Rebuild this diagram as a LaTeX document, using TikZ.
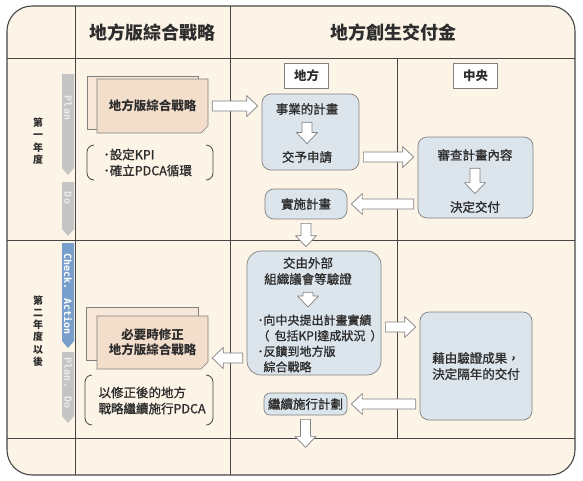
\documentclass[tikz,border=0pt]{standalone}
\usepackage{fontspec}
\setmainfont{Noto Sans CJK TC}[UprightFeatures={FakeBold=1.2}]
\newfontfamily\phasefont{DejaVu Sans Mono}
\usetikzlibrary{calc}

\definecolor{paper}{RGB}{252,244,230}
\definecolor{rule}{RGB}{70,70,70}
\definecolor{edge}{RGB}{128,128,128}
\definecolor{ink}{RGB}{45,45,45}
\definecolor{boxblue}{RGB}{221,229,236}
\definecolor{docpale}{RGB}{246,231,216}
\definecolor{docpeach}{RGB}{243,221,203}
\definecolor{phasegray}{RGB}{196,196,196}
\definecolor{phaseblue}{RGB}{120,158,204}
\definecolor{phaselight}{RGB}{236,236,236}

\newcommand{\bigarrow}[2]{%
	\path
	($(#1)!4pt!(#2)$) coordinate (ba)
	($(#2)!4pt!(#1)$) coordinate (bb);
	\path
	($(bb)!11pt!(ba)$) coordinate (bh);
	\filldraw[bigarrow]
	($(ba)!5pt!90:(bb)$) --
	($(bh)!5pt!90:(bb)$) --
	($(bh)!10.5pt!90:(bb)$) --
	(bb) --
	($(bh)!10.5pt!-90:(bb)$) --
	($(bh)!5pt!-90:(bb)$) --
	($(ba)!5pt!-90:(bb)$) -- cycle;}

\begin{document}
\begin{tikzpicture}[x=1pt,y=-1pt,
	every node/.style={text=ink,font=\fontsize{12.5}{16}\selectfont},
	grid/.style={draw=rule,line width=0.9pt},
	flowbox/.style={draw=edge,fill=boxblue,rounded corners=9pt,line width=0.7pt},
	colhead/.style={draw=edge,fill=white,line width=0.7pt,minimum width=44pt,minimum height=25pt,font=\bfseries\fontsize{12.5}{14}\selectfont},
	bigarrow/.style={draw=edge,fill=white,line width=0.7pt,line join=round},
	docback/.style={draw=edge,fill=docpale,line width=0.6pt},
	docfront/.style={draw=edge,fill=docpeach,line width=0.6pt},
	doctext/.style={align=center,minimum width=111pt,minimum height=53pt,font=\bfseries\fontsize{12.5}{15}\selectfont},
	bracket/.style={draw=rule,line width=0.8pt},
	phasetext/.style={text=phaselight,rotate=-90,inner sep=0pt,font=\phasefont\bfseries\fontsize{10}{10}\selectfont},
	yearlabel/.style={align=center,font=\bfseries\fontsize{10}{12.3}\selectfont},
	]
	\useasboundingbox (0,0) rectangle (583,480);
	\path
	coordinate (tl) at (7,6)
	coordinate (br) at (575,475)
	coordinate (h1l) at (7,58)
	coordinate (h1r) at (575,58)
	coordinate (h2l) at (7,240)
	coordinate (h2r) at (575,240)
	coordinate (h3l) at (7,438)
	coordinate (h3r) at (575,438)
	coordinate (v1t) at (75,6)
	coordinate (v1b) at (75,475)
	coordinate (v2t) at (230,6)
	coordinate (v2b) at (230,475)
	coordinate (v3t) at (397,58)
	coordinate (v3b) at (397,438)
	;
	\filldraw[fill=paper,draw=rule,line width=1.1pt,rounded corners=25pt]
	(tl) rectangle (br);
	\draw[grid] (h1l) -- (h1r);
	\draw[grid] (h2l) -- (h2r);
	\draw[grid] (h3l) -- (h3r);
	\draw[grid] (v1t) -- (v1b);
	\draw[grid] (v2t) -- (v2b);
	\draw[grid] (v3t) -- (v3b);
	% phase arrows
	\fill[phasegray] (62,74) -- (74,74) -- (74,168) -- (68,175) -- (62,168) -- cycle;
	\fill[phasegray] (62,182) -- (74,182) -- (74,229) -- (68,236) -- (62,229) -- cycle;
	\fill[phaseblue] (62,243) -- (74,243) -- (74,341) -- (68,348) -- (62,341) -- cycle;
	\fill[phasegray] (62,352) -- (74,352) -- (74,416) -- (68,423) -- (62,416) -- cycle;
	\node[phasetext] (phplan) at (68,108) {Plan};
	\node[phasetext] (phdo) at (68,198) {Do};
	\node[phasetext,text=white] (phcheck) at (68,294) {Check. Action};
	\node[phasetext] (phplando) at (68,383) {Plan. Do};
	\node[yearlabel] (year1) at (38,141) {第\\一\\年\\度};
	\node[yearlabel] (year2) at (38,331) {第\\二\\年\\度\\以\\後};
	% headers
	\node[font=\bfseries\fontsize{18}{20}\selectfont] (strat) at (152,33) {地方版綜合戰略};
	\node[font=\bfseries\fontsize{18}{20}\selectfont] (grant) at (393,33) {地方創生交付金};
	\node[colhead] (local) at (306.5,76) {地方};
	\node[colhead] (central) at (475.5,75.5) {中央};
	% strategy documents
	\filldraw[docback] (87,76) rectangle (198,129);
	\filldraw[docfront] (97,79) -- (208,79) -- (208,126) -- (201,133) -- (97,133) -- cycle;
	\node[doctext] (doc1) at (152.5,106) {地方版綜合戰略};
	\node[align=left,anchor=west] (kpi) at (100,162.5) {･設定KPI\\･確立PDCA循環};
	\draw[bracket] (94,145) to[out=180,in=90] (87,152) -- (87,173) to[out=-90,in=180] (94,180);
	\draw[bracket] (206,145) to[out=0,in=90] (213,152) -- (213,173) to[out=-90,in=0] (206,180);
	\filldraw[docback] (86,307) rectangle (198,360);
	\filldraw[docfront] (97,316) -- (208,316) -- (208,362) -- (201,369) -- (97,369) -- cycle;
	\node[doctext] (doc2) at (152.5,342.5) {必要時修正\\地方版綜合戰略};
	\node[align=left,anchor=west] (pdca) at (95,400.5) {以修正後的地方\\戰略繼續施行PDCA};
	\draw[bracket] (92,375) to[out=180,in=90] (85,382) -- (85,418) to[out=-90,in=180] (92,425);
	\draw[bracket] (206,375) to[out=0,in=90] (213,382) -- (213,418) to[out=-90,in=0] (206,425);
	% local side
	\node[flowbox,minimum width=97pt,minimum height=76pt] (planbox) at (310.5,132) {};
	\node (plantxt) at (307,109) {事業的計畫};
	\node (apply) at (307,157) {交予申請};
	\node[flowbox,minimum width=82pt,minimum height=30pt] (exec) at (306,204) {實施計畫};
	\node[flowbox,minimum width=134pt,minimum height=124pt,rounded corners=14pt] (verifybox) at (314,313) {};
	\node[align=center] (outside) at (308,271) {交由外部\\組織議會等驗證};
	\node[align=left,anchor=west,font=\fontsize{12}{15.6}\selectfont] (report) at (254,343.5)
	{･向中央提出計畫實績\\（\hspace{5pt}包括KPI達成狀況\hspace{5pt}）\\･反饋到地方版\\\hspace*{6pt}綜合戰略};
	\node[flowbox,minimum width=83pt,minimum height=22pt,inner sep=2pt,rounded corners=6pt] (cont) at (305.5,404) {繼續施行計劃};
	% central side
	\node[flowbox,minimum width=115pt,minimum height=81pt] (reviewbox) at (475.5,177.5) {};
	\node (review) at (475,155) {審查計畫內容};
	\node (decide) at (475,207) {決定交付};
	\node[flowbox,minimum width=112pt,minimum height=108pt,align=center] (judge) at (476,366) {藉由驗證成果，\\決定隔年的交付};
	\path
	coordinate (rp) at ($(verifybox.east)+(0,14)$)
	coordinate (fb) at ($(verifybox.west)+(0,45)$)
	coordinate (out) at ($(cont.south)+(0,36)$)
	;
	% block arrows
	\bigarrow{doc1.east}{doc1.east -| planbox.west}
	\bigarrow{plantxt.south}{apply.north}
	\bigarrow{planbox.east |- apply}{reviewbox.west |- apply}
	\bigarrow{review.south}{decide.north}
	\bigarrow{reviewbox.west |- exec}{exec.east}
	\bigarrow{exec.south}{exec.south |- verifybox.north}
	\bigarrow{outside.south}{outside.south |- report.north}
	\bigarrow{rp}{rp -| judge.west}
	\bigarrow{fb}{fb -| doc2.east}
	\bigarrow{judge.west |- cont}{cont.east}
	\bigarrow{cont.south}{out}
\end{tikzpicture}
\end{document}
